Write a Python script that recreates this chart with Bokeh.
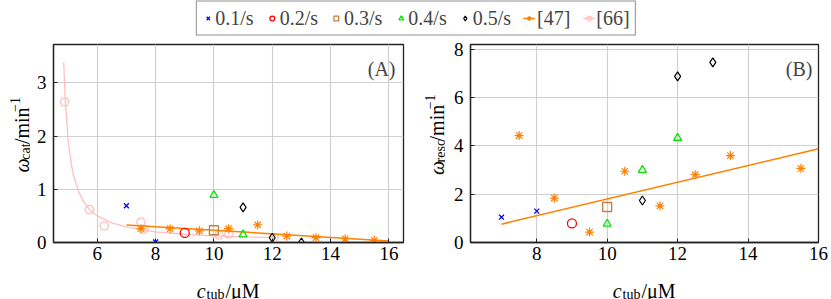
import math
from bokeh.plotting import figure
from bokeh.models import Range1d, Label, FixedTicker, Legend, LegendItem
from bokeh.layouts import column, row
from bokeh.embed import file_html
from bokeh.resources import INLINE

# ---------------- data ----------------
# Panel (A): catastrophe frequency
a_x01 = [7, 8]
a_y01 = [0.69, 0.01]
a_x02 = [9]
a_y02 = [0.18]
a_x03 = [10]
a_y03 = [0.23]
a_x04 = [10, 11]
a_y04 = [0.89, 0.15]
a_x05 = [11, 12, 13]
a_y05 = [0.66, 0.09, 0.0]
a_x47 = [7.5, 8.5, 9.5, 10.5, 11.5, 12.5, 13.5, 14.5, 15.5]
a_y47 = [0.26, 0.26, 0.22, 0.26, 0.33, 0.12, 0.09, 0.07, 0.04]
a_fit47_x = [7, 16]
a_fit47_y = [0.33, 0.03]
a_x66 = [4.88, 5.73, 6.24, 7.5, 7.59, 10.17, 10.51, 12.06]
a_y66 = [2.64, 0.62, 0.31, 0.38, 0.25, 0.14, 0.16, 0.095]
a_fit66_x = [4.85, 4.9, 5.0, 5.1, 5.2, 5.35, 5.5, 5.75, 6.0, 6.5, 7.0, 8.0, 9.0, 10.0, 11.0, 12.1]
a_fit66_y = [3.38, 2.70, 1.93, 1.50, 1.23, 0.97, 0.80, 0.61, 0.50, 0.37, 0.29, 0.20, 0.155, 0.126, 0.106, 0.091]

# Panel (B): rescue frequency
b_x01 = [7, 8]
b_y01 = [1.05, 1.30]
b_x02 = [9]
b_y02 = [0.79]
b_x03 = [10]
b_y03 = [1.47]
b_x04 = [10, 11, 12]
b_y04 = [0.77, 3.0, 4.33]
b_x05 = [11, 12, 13]
b_y05 = [1.74, 6.88, 7.46]
b_x47 = [7.5, 8.5, 9.5, 10.5, 11.5, 12.5, 13.5, 15.5]
b_y47 = [4.43, 1.84, 0.43, 2.95, 1.52, 2.81, 3.60, 3.07]
b_fit47_x = [7, 16]
b_fit47_y = [0.76, 3.88]

legend_labels = ["0.1/s", "0.2/s", "0.3/s", "0.4/s", "0.5/s", "[47]", "[66]"]
a_xticks = [6, 8, 10, 12, 14, 16]
a_yticks = [0, 1, 2, 3]
b_xticks = [8, 10, 12, 14, 16]
b_yticks = [0, 2, 4, 6, 8]

# ---------------- styles ----------------
FONT = "Liberation Serif"
FS = 19
FL = 20
FL_SMALL = 14
BLUE = "#0000ff"
RED = "#ff0000"
BROWN = "#bf8040"
GREEN = "#00e600"
BLACK = "#000000"
ORANGE = "#ff8000"
PINK = "#ffbfbf"
GRID = "#d0d0d0"
AXC = "#222222"

styles = [
    dict(marker="x", line_color=BLUE, size=7, line_width=1.3),
    dict(marker="circle", line_color=RED, fill_color=None, size=9, line_width=1.3),
    dict(marker="square", line_color=BROWN, fill_color=None, size=9, line_width=1.3),
    dict(marker="triangle", line_color=GREEN, fill_color=None, size=8, line_width=1.3),
    dict(marker="diamond", line_color=BLACK, fill_color=None, size=9, line_width=1.2),
]
star_style = dict(marker="asterisk", line_color=ORANGE, size=9, line_width=1.2)
pent_style = dict(marker="hex", line_color=PINK, fill_color=None, size=9, line_width=1.3)

# layout geometry (pixels)
LEG_H = 36
PANEL_H = 232
BOT_H = 299 - LEG_H - PANEL_H
TOP_B = 8
FRAME_H = 198
SA_W, PA_W, SB_W, PB_W = 30, 385, 30, 386
PA_L, PA_R = 23, 12
PB_L, PB_R = 25, 13


def style_axes(p, xticks, yticks):
    p.outline_line_color = AXC
    p.outline_line_width = 1.3
    p.background_fill_color = "white"
    p.border_fill_color = "white"
    for ax, ticks in ((p.xaxis[0], xticks), (p.yaxis[0], yticks)):
        ax.ticker = FixedTicker(ticks=ticks)
        ax.major_label_text_font = FONT
        ax.major_label_text_font_size = f"{FS}px"
        ax.major_label_text_color = "black"
        ax.axis_line_color = AXC
        ax.axis_line_width = 1.3
        ax.major_tick_in = 4
        ax.major_tick_out = 0
        ax.major_tick_line_color = AXC
        ax.minor_tick_line_color = None
    p.xaxis[0].major_label_standoff = 4
    p.yaxis[0].major_label_standoff = 7
    p.xgrid.grid_line_color = GRID
    p.ygrid.grid_line_color = GRID
    p.xgrid.grid_line_width = 1.2
    p.ygrid.grid_line_width = 1.2
    p.xgrid.ticker = FixedTicker(ticks=xticks)
    p.ygrid.ticker = FixedTicker(ticks=yticks)


def make_panel(width, left, right, xr, yr, xticks, yticks):
    p = figure(width=width, height=PANEL_H, x_range=Range1d(*xr), y_range=Range1d(*yr),
               output_backend="svg", toolbar_location=None, title=None,
               min_border_left=left, min_border_right=right,
               min_border_top=TOP_B, min_border_bottom=PANEL_H - TOP_B - FRAME_H)
    style_axes(p, xticks, yticks)
    return p


def strip(width, height):
    s = figure(width=width, height=height, x_range=Range1d(0, width), y_range=Range1d(0, height),
               output_backend="svg", toolbar_location=None, title=None,
               min_border_left=0, min_border_right=0, min_border_top=0, min_border_bottom=0)
    s.axis.visible = False
    s.grid.visible = False
    s.outline_line_color = None
    s.background_fill_color = "white"
    s.border_fill_color = "white"
    return s


def em(s, size):
    w = {"c": .444, "t": .278, "u": .5, "b": .5, "/": .278, "μ": .576, "M": .889,
         "ω": .69, "a": .444, "r": .333, "e": .444, "s": .389, "m": .778, "i": .278,
         "n": .5, "−": .564, "1": .5}
    return sum(w.get(ch, .5) for ch in s) * size


def draw_parts(s, parts, start, base, rotated):
    pos = start
    for text, size, fstyle, shift, w in parts:
        if rotated:
            x, y, ang = base + shift, pos, math.pi / 2
        else:
            x, y, ang = pos, base + shift, 0.0
        s.add_layout(Label(x=x, y=y, text=text, angle=ang,
                           text_font=FONT, text_font_size=f"{size}px",
                           text_font_style=fstyle, text_align="left",
                           text_baseline="alphabetic", text_color="black"))
        pos += w


def x_label_parts():
    return [("c", FL, "italic", 0, em("c", FL) + 1),
            ("tub", FL_SMALL, "normal", -4, em("tub", FL_SMALL) + 1),
            ("/μM", FL, "normal", 0, em("/μM", FL))]


def y_label_parts(sub):
    # for rotated text "down" (subscript) is +x on screen
    return [("ω", FL, "italic", 0, em("ω", FL) + 1),
            (sub, FL_SMALL, "normal", 4, em(sub, FL_SMALL) + 2),
            ("/min", FL, "normal", 0, em("/min", FL) + 1),
            ("−1", FL_SMALL, "normal", -7, em("−1", FL_SMALL))]


# ---------------- panel A ----------------
AX = (4.5, 16.5)
AY = (0.0, 3.72)
pa = make_panel(PA_W, PA_L, PA_R, AX, AY, a_xticks, a_yticks)
pa.line(a_fit66_x, a_fit66_y, line_color=PINK, line_width=1.3)
pa.scatter(a_x66, a_y66, **pent_style)
pa.line(a_fit47_x, a_fit47_y, line_color=ORANGE, line_width=1.5)
pa.scatter(a_x47, a_y47, **star_style)
for xs, ys, st in zip([a_x01, a_x02, a_x03, a_x04, a_x05],
                      [a_y01, a_y02, a_y03, a_y04, a_y05], styles):
    pa.scatter(xs, ys, **st)
pa.add_layout(Label(x=AX[1], y=AY[1], x_offset=-8, y_offset=-24, text="(A)",
                    text_font=FONT, text_font_size=f"{FL}px", text_align="right",
                    text_baseline="alphabetic"))

# ---------------- panel B ----------------
BX = (6.12, 16.0)
BY = (0.0, 8.2)
pb = make_panel(PB_W, PB_L, PB_R, BX, BY, b_xticks, b_yticks)
pb.line(b_fit47_x, b_fit47_y, line_color=ORANGE, line_width=1.5)
pb.scatter(b_x47, b_y47, **star_style)
for xs, ys, st in zip([b_x01, b_x02, b_x03, b_x04, b_x05],
                      [b_y01, b_y02, b_y03, b_y04, b_y05], styles):
    pb.scatter(xs, ys, **st)
pb.add_layout(Label(x=BX[1], y=BY[1], x_offset=-6, y_offset=-24, text="(B)",
                    text_font=FONT, text_font_size=f"{FL}px", text_align="right",
                    text_baseline="alphabetic"))

# ---------------- axis-label strips ----------------
frame_mid_y = PANEL_H - TOP_B - FRAME_H / 2
sa = strip(SA_W, PANEL_H)
parts = y_label_parts("cat")
tot = sum(p_[4] for p_ in parts)
draw_parts(sa, parts, frame_mid_y - tot / 2, 21, rotated=True)

sb = strip(SB_W, PANEL_H)
parts = y_label_parts("resc")
tot = sum(p_[4] for p_ in parts)
draw_parts(sb, parts, frame_mid_y - tot / 2, 21, rotated=True)

W = SA_W + PA_W + SB_W + PB_W
sx = strip(W, BOT_H)
parts = x_label_parts()
tot = sum(p_[4] for p_ in parts)
a_mid = SA_W + PA_L + (PA_W - PA_L - PA_R) / 2
b_mid = SA_W + PA_W + SB_W + PB_L + (PB_W - PB_L - PB_R) / 2
draw_parts(sx, parts, a_mid - tot / 2, 9, rotated=False)
draw_parts(sx, parts, b_mid - tot / 2, 9, rotated=False)

# ---------------- shared legend ----------------
pl = figure(width=W, height=LEG_H, x_range=Range1d(100, 101), y_range=Range1d(100, 101),
            output_backend="svg", toolbar_location=None, title=None,
            min_border_left=0, min_border_right=0, min_border_top=0, min_border_bottom=0)
pl.axis.visible = False
pl.grid.visible = False
pl.outline_line_color = None
items = []
for lbl, xs, ys, st in zip(legend_labels[:5], [a_x01, a_x02, a_x03, a_x04, a_x05],
                           [a_y01, a_y02, a_y03, a_y04, a_y05], styles):
    r = pl.scatter(xs, ys, **st)
    items.append(LegendItem(label=lbl, renderers=[r]))
r47l = pl.line(a_fit47_x, a_fit47_y, line_color=ORANGE, line_width=1.5)
r47m = pl.scatter(a_x47, a_y47, **star_style)
items.append(LegendItem(label=legend_labels[5], renderers=[r47l, r47m]))
r66l = pl.line(a_fit66_x, a_fit66_y, line_color=PINK, line_width=1.3)
r66m = pl.scatter(a_x66, a_y66, **pent_style)
items.append(LegendItem(label=legend_labels[6], renderers=[r66l, r66m]))
leg = Legend(items=items, orientation="horizontal", location="center")
leg.label_text_font = FONT
leg.label_text_font_size = f"{FL}px"
leg.glyph_width = 12
leg.glyph_height = 21
leg.label_height = 21
leg.label_standoff = 2
leg.spacing = 12
leg.padding = 5
leg.margin = 0
leg.border_line_color = AXC
leg.border_line_width = 1.2
leg.background_fill_alpha = 1.0
pl.add_layout(leg, "center")

layout = column(pl, row(sa, pa, sb, pb, spacing=0), sx, spacing=0)
open("out.html", "w").write(file_html(layout, INLINE))
